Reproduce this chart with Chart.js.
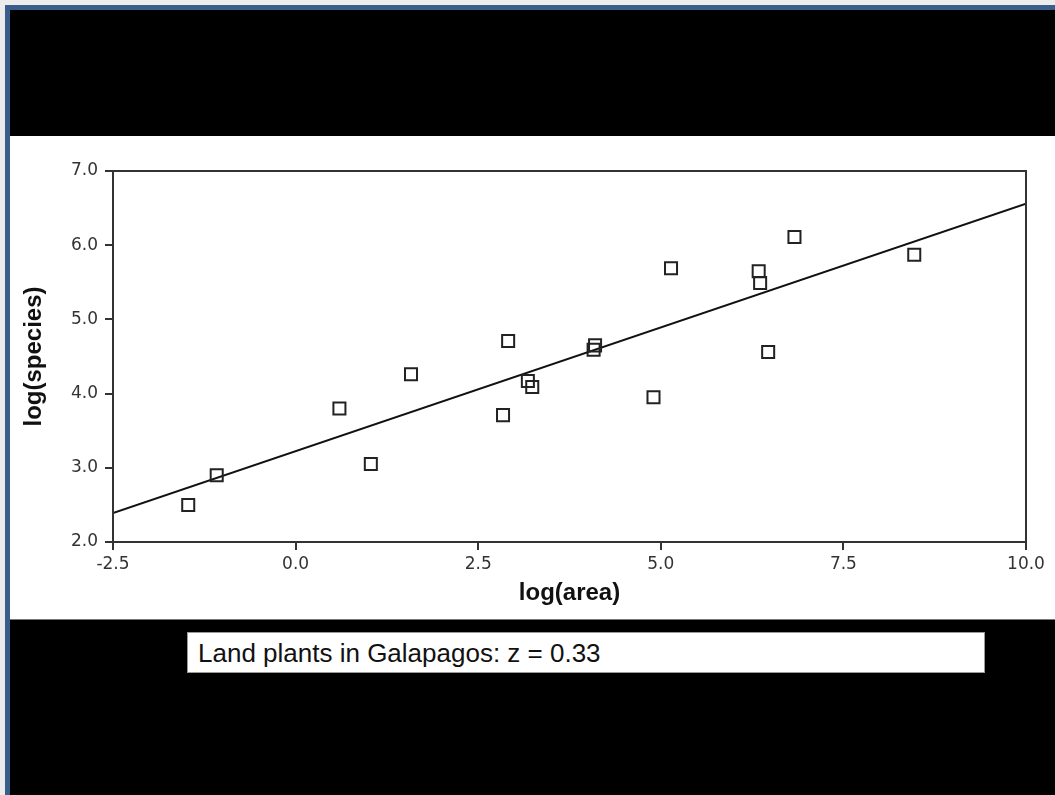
<!DOCTYPE html>
<html>
<head>
<meta charset="utf-8">
<script src="https://cdn.jsdelivr.net/npm/chart.js@4.4.1/dist/chart.umd.min.js"></script>
<style>
  html, body { margin: 0; padding: 0; background: #ececec; }
  #frame { position: absolute; left: 5px; top: 5px; width: 1050px; height: 790px; background: #3b5d8c; }
  #slide { position: absolute; left: 10px; top: 10px; width: 1045px; height: 785px; background: #000; }
  #panel { position: absolute; left: 10px; top: 136px; width: 1045px; height: 483px; background: #fff; border-bottom: 1px solid #777; }
  #caption { position: absolute; left: 187px; top: 632px; width: 786px; height: 39px; background: #fff;
             border: 1px solid #999; font-family: "Liberation Sans", Arial, sans-serif; font-size: 26px;
             line-height: 40px; padding-left: 10px; box-sizing: content-box; color: #111; }
</style>
</head>
<body>
<div id="frame"></div>
<div id="slide"></div>
<div id="panel"><canvas id="plot" width="1045" height="483"></canvas></div>
<div id="caption">Land plants in Galapagos: z = 0.33</div>
<script>
// log(area) / log(species) for each island
var logArea    = [-1.47, -1.08, 0.60, 1.03, 1.58, 2.91, 2.84, 3.18, 3.24, 4.08, 4.10, 4.90, 5.14, 6.34, 6.36, 6.47, 6.83, 8.47];
var logSpecies = [ 2.50,  2.90, 3.80, 3.05, 4.26, 4.71, 3.71, 4.17, 4.09, 4.59, 4.65, 3.95, 5.69, 5.65, 5.49, 4.56, 6.11, 5.87];

// fitted line ends (slope ~0.33)
var fitX = [-2.5, 10.0];
var fitY = [2.39, 6.56];

var xTicks = [-2.5, 0.0, 2.5, 5.0, 7.5, 10.0];
var yTicks = [2.0, 3.0, 4.0, 5.0, 6.0, 7.0];

var points = logArea.map(function (x, i) { return { x: x, y: logSpecies[i] }; });
var line = fitX.map(function (x, i) { return { x: x, y: fitY[i] }; });

// box around the plot area
var boxPlugin = {
  id: 'box',
  afterDraw: function (chart) {
    var a = chart.chartArea, ctx = chart.ctx;
    ctx.save();
    ctx.strokeStyle = '#333';
    ctx.lineWidth = 2;
    ctx.strokeRect(a.left, a.top, a.right - a.left, a.bottom - a.top);
    ctx.restore();
  }
};

var tickFont = { family: '"DejaVu Sans", sans-serif', size: 17 };
var titleFont = { family: '"Liberation Sans", Arial, sans-serif', size: 24, weight: 'bold' };

new Chart(document.getElementById('plot'), {
  type: 'scatter',
  data: {
    datasets: [{
      label: 'islands',
      data: points,
      pointStyle: 'rect',
      pointRadius: 8.5,
      pointHoverRadius: 8.5,
      borderWidth: 2,
      borderColor: '#222',
      backgroundColor: 'rgba(255,255,255,0)'
    }, {
      label: 'fit',
      data: line,
      showLine: true,
      pointRadius: 0,
      borderWidth: 2,
      borderColor: '#111'
    }]
  },
  plugins: [boxPlugin],
  options: {
    responsive: false,
    animation: false,
    layout: { padding: { top: 35, right: 29, left: 0, bottom: 0 } },
    plugins: { legend: { display: false }, tooltip: { enabled: false } },
    scales: {
      x: {
        type: 'linear',
        min: -2.5, max: 10,
        afterBuildTicks: function (s) { s.ticks = xTicks.map(function (v) { return { value: v }; }); },
        afterFit: function (s) { s.height = 77; },
        grid: { drawOnChartArea: false, drawTicks: true, tickLength: 8, color: '#333', lineWidth: 2 },
        border: { display: true, color: '#333', width: 2 },
        ticks: { color: '#333', font: tickFont, padding: 4, maxRotation: 0,
                 callback: function (v) { return Number(v).toFixed(1); } },
        title: { display: true, text: 'log(area)', color: '#111', font: titleFont, padding: { top: 0, bottom: 11 } }
      },
      y: {
        type: 'linear',
        min: 2, max: 7,
        afterBuildTicks: function (s) { s.ticks = yTicks.map(function (v) { return { value: v }; }); },
        afterFit: function (s) { s.width = 103; },
        grid: { drawOnChartArea: false, drawTicks: true, tickLength: 8, color: '#333', lineWidth: 2 },
        border: { display: true, color: '#333', width: 2 },
        ticks: { color: '#333', font: tickFont, padding: 7,
                 callback: function (v) { return Number(v).toFixed(1); } },
        title: { display: true, text: 'log(species)', color: '#111', font: titleFont, padding: { top: 10, bottom: 0 } }
      }
    }
  }
});
</script>
</body>
</html>
